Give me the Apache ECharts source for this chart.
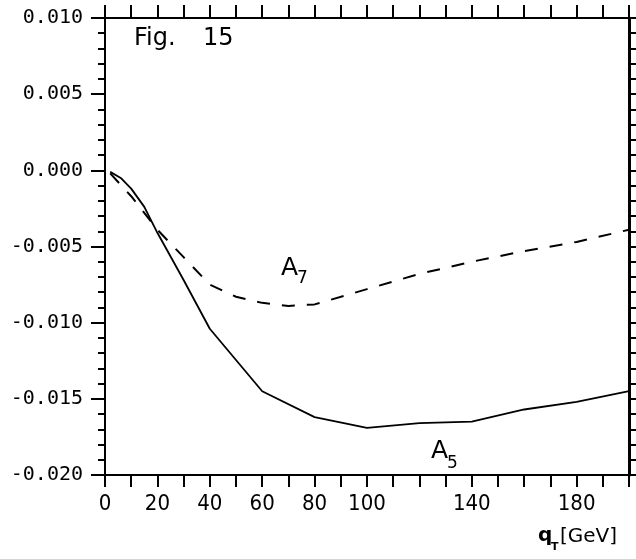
<!DOCTYPE html>
<html>
<head>
<meta charset="utf-8">
<script src="https://cdn.jsdelivr.net/npm/echarts@6/dist/echarts.min.js"></script>
<style>
  html, body { margin: 0; padding: 0; background: #fff; }
  #chart { width: 636px; height: 559px; }
</style>
</head>
<body>
<div id="chart"></div>
<script>
// values
var xLabels = [0, 20, 40, 60, 80, 100, 140, 180];   // labelled ticks on q_T axis
var a5X = [2, 6, 10, 15, 20, 30, 40, 60, 80, 100, 120, 140, 160, 180, 200];
var a5Y = [-0.0001, -0.0005, -0.0012, -0.0024, -0.0041, -0.0072, -0.0104, -0.0145, -0.0162, -0.0169, -0.0166, -0.0165, -0.0157, -0.0152, -0.0145];
var a7X = [2, 10, 20, 30, 40, 50, 60, 70, 80, 100, 120, 140, 160, 180, 200];
var a7Y = [-0.0002, -0.0017, -0.0039, -0.0057, -0.0075, -0.0083, -0.0087, -0.0089, -0.0088, -0.0078, -0.0068, -0.0060, -0.0053, -0.0047, -0.0039];

function pairs(xs, ys) {
  return xs.map(function (x, i) { return [x, ys[i]]; });
}

var axisLine = { onZero: false, lineStyle: { color: '#000', width: 2 } };

var myChart = echarts.init(document.getElementById('chart'));
myChart.setOption({
  animation: false,
  grid: { left: 105, right: 7, top: 18, bottom: 84 },
  xAxis: [
    {
      type: 'value', position: 'bottom', min: 0, max: 200, interval: 10,
      axisLine: axisLine,
      axisTick: { length: 12, lineStyle: { color: '#000', width: 2 } },
      splitLine: { show: false },
      axisLabel: {
        margin: 18, color: '#000', fontSize: 22, fontFamily: "'DejaVu Sans Condensed', 'DejaVu Sans'",
        formatter: function (v) { return xLabels.indexOf(v) >= 0 ? String(v) : ''; }
      }
    },
    {
      type: 'value', position: 'top', min: 0, max: 200, interval: 10,
      axisLine: axisLine,
      axisTick: { length: 13, lineStyle: { color: '#000', width: 2 } },
      splitLine: { show: false },
      axisLabel: { show: false }
    }
  ],
  yAxis: [
    {
      type: 'value', position: 'left', min: -0.02, max: 0.01, interval: 0.005,
      axisLine: axisLine,
      axisTick: { length: 14, lineStyle: { color: '#000', width: 2 } },
      minorTick: { show: true, splitNumber: 5, length: 7, lineStyle: { color: '#000', width: 2 } },
      splitLine: { show: false },
      axisLabel: {
        margin: 22, color: '#000', fontSize: 20, fontFamily: 'DejaVu Sans Mono',
        formatter: function (v) { return v.toFixed(3); }
      }
    },
    {
      type: 'value', position: 'right', min: -0.02, max: 0.01, interval: 0.005,
      axisLine: { onZero: false, lineStyle: { color: '#000', width: 3 } },
      axisTick: { length: 7, lineStyle: { color: '#000', width: 2 } },
      minorTick: { show: true, splitNumber: 5, length: 7, lineStyle: { color: '#000', width: 2 } },
      splitLine: { show: false },
      axisLabel: { show: false }
    }
  ],
  series: [
    {
      name: 'A5', type: 'line', xAxisIndex: 0, yAxisIndex: 0,
      data: pairs(a5X, a5Y), showSymbol: false, smooth: false,
      lineStyle: { color: '#000', width: 1.8 }
    },
    {
      name: 'A7', type: 'line', xAxisIndex: 0, yAxisIndex: 0,
      data: pairs(a7X, a7Y), showSymbol: false, smooth: false,
      lineStyle: { color: '#000', width: 2, type: [13, 12] }
    }
  ],
  graphic: [
    { type: 'text', left: 134, top: 27, style: { text: 'Fig.', fontSize: 24, fontFamily: 'DejaVu Sans', fill: '#000' } },
    { type: 'text', left: 203, top: 27, style: { text: '15', fontSize: 24, fontFamily: 'DejaVu Sans', fill: '#000' } },
    { type: 'text', left: 281, top: 256, style: { text: 'A', fontSize: 25, fontFamily: 'DejaVu Sans', fill: '#000' } },
    { type: 'text', left: 297, top: 270, style: { text: '7', fontSize: 17, fontFamily: 'DejaVu Sans', fill: '#000' } },
    { type: 'text', left: 431, top: 439, style: { text: 'A', fontSize: 25, fontFamily: 'DejaVu Sans', fill: '#000' } },
    { type: 'text', left: 447, top: 455, style: { text: '5', fontSize: 17, fontFamily: 'DejaVu Sans', fill: '#000' } },
    { type: 'text', left: 538, top: 526, style: { text: 'q', fontSize: 20, fontFamily: 'DejaVu Sans', fill: '#000', fontWeight: 'bold' } },
    { type: 'text', left: 551, top: 542, style: { text: 'T', fontSize: 11, fontFamily: 'DejaVu Sans', fill: '#000', fontWeight: 'bold' } },
    { type: 'text', left: 560, top: 527, style: { text: '[GeV]', fontSize: 20, fontFamily: 'DejaVu Sans', fill: '#000' } }
  ]
});
</script>
</body>
</html>
